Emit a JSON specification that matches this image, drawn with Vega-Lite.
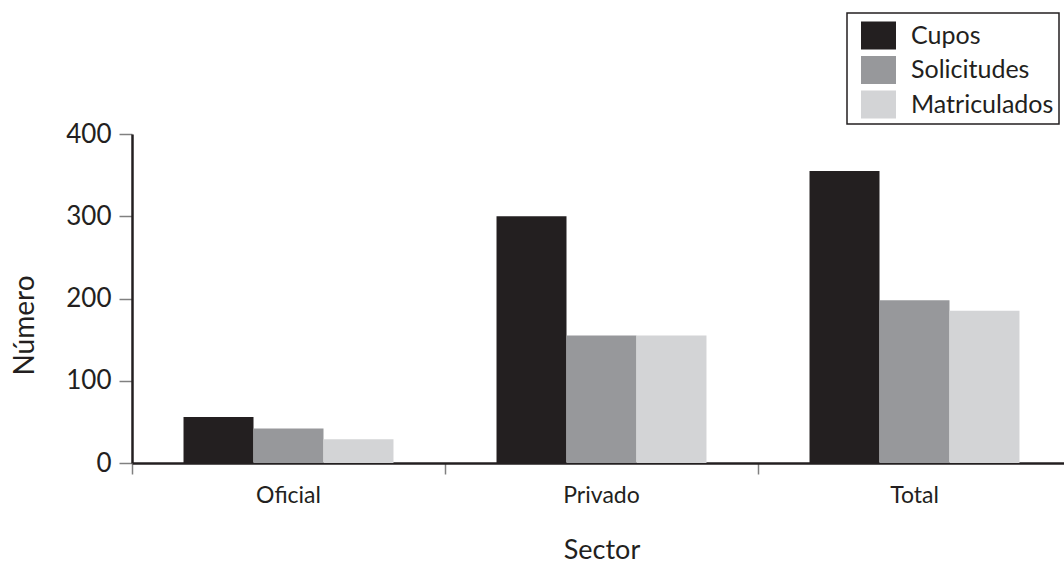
{
  "$schema": "https://vega.github.io/schema/vega-lite/v6.json",
  "autosize": {"type": "none"},
  "padding": {"left": 132, "top": 134, "right": 0, "bottom": 100},
  "width": 932,
  "height": 329,
  "background": "white",
  "config": {
    "view": {"stroke": null},
    "font": "Lato",
    "text": {"font": "Lato"}
  },
  "data": {
    "values": [
      {"sector": "Oficial", "serie": "Cupos", "numero": 56},
      {"sector": "Oficial", "serie": "Solicitudes", "numero": 42},
      {"sector": "Oficial", "serie": "Matriculados", "numero": 29},
      {"sector": "Privado", "serie": "Cupos", "numero": 300},
      {"sector": "Privado", "serie": "Solicitudes", "numero": 155},
      {"sector": "Privado", "serie": "Matriculados", "numero": 155},
      {"sector": "Total", "serie": "Cupos", "numero": 355},
      {"sector": "Total", "serie": "Solicitudes", "numero": 198},
      {"sector": "Total", "serie": "Matriculados", "numero": 185}
    ]
  },
  "mark": {"type": "bar"},
  "encoding": {
    "x": {
      "field": "sector",
      "type": "nominal",
      "sort": ["Oficial", "Privado", "Total"],
      "scale": {"range": [0, 939], "paddingInner": 0, "paddingOuter": 0},
      "axis": {
        "title": "Sector",
        "titleFont": "Lato",
        "titleFontSize": 27,
        "titleFontWeight": "normal",
        "titleColor": "#231f20",
        "titleBaseline": "alphabetic",
        "titleY": 95,
        "titleX": 469.5,
        "titleAlign": "center",
        "labelAngle": 0,
        "labelFont": "Lato",
        "labelFontSize": 23,
        "labelColor": "#231f20",
        "labelPadding": 10,
        "bandPosition": 0,
        "domainColor": "#231f20",
        "domainWidth": 2.5,
        "tickColor": "#808080",
        "tickWidth": 1.5,
        "tickSize": 11,
        "domainCap": "butt"
      }
    },
    "xOffset": {
      "field": "serie",
      "type": "nominal",
      "sort": ["Cupos", "Solicitudes", "Matriculados"],
      "scale": {"paddingInner": 0, "paddingOuter": 0.736}
    },
    "y": {
      "field": "numero",
      "type": "quantitative",
      "scale": {"domain": [0, 400], "nice": false},
      "axis": {
        "title": "Número",
        "titleFont": "Lato",
        "titleFontSize": 28,
        "titleFontWeight": "normal",
        "titleColor": "#231f20",
        "titleAngle": -90,
        "titleBaseline": "alphabetic",
        "titleAlign": "center",
        "titleX": -99,
        "titleY": 191,
        "values": [0, 100, 200, 300, 400],
        "grid": false,
        "labelFont": "Lato",
        "labelFontSize": 26,
        "labelColor": "#231f20",
        "labelPadding": 8,
        "domainColor": "#231f20",
        "domainWidth": 2.5,
        "tickColor": "#808080",
        "tickWidth": 1.5,
        "tickSize": 13
      }
    },
    "color": {
      "field": "serie",
      "type": "nominal",
      "sort": ["Cupos", "Solicitudes", "Matriculados"],
      "scale": {
        "domain": ["Cupos", "Solicitudes", "Matriculados"],
        "range": ["#231f20", "#97989b", "#d3d4d6"]
      },
      "legend": {
        "title": null,
        "orient": "none",
        "legendX": 715,
        "legendY": -121,
        "padding": 5,
        "strokeColor": "#231f20",
        "fillColor": "white",
        "symbolType": "M-1,-0.8H1V0.8H-1Z",
        "symbolSize": 1225,
        "symbolStrokeWidth": 0,
        "symbolOpacity": 1,
        "symbolOffset": 9,
        "labelOffset": 15,
        "labelFont": "Lato",
        "labelFontSize": 25,
        "labelColor": "#231f20",
        "rowPadding": 2.5,
        "labelLimit": 400,
        "encode": {"legend": {"update": {"strokeWidth": {"value": 1.5}}}}
      }
    }
  }
}
